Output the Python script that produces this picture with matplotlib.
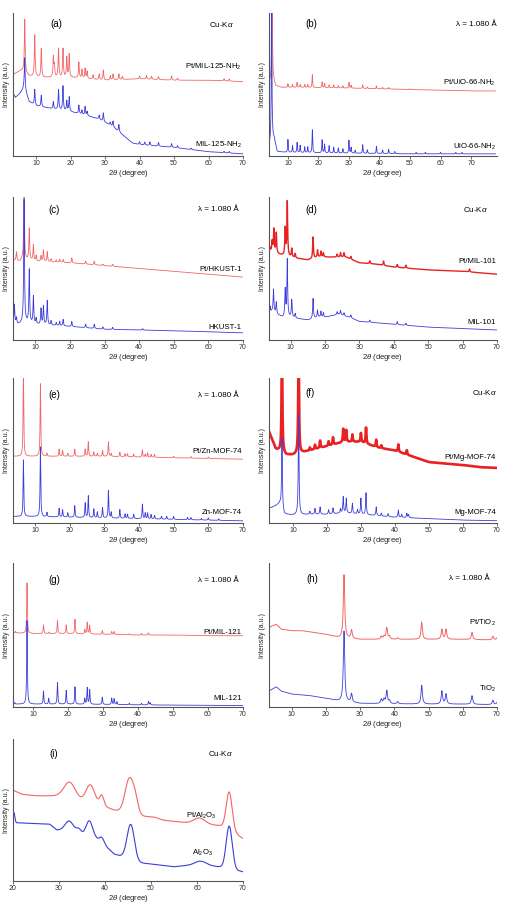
import numpy as np
import matplotlib
matplotlib.use("Agg")
import matplotlib.pyplot as plt

plt.rcParams['font.family'] = ['Liberation Sans', 'DejaVu Sans']
plt.rcParams['mathtext.fontset'] = 'custom'
plt.rcParams['mathtext.rm'] = 'Liberation Sans'
plt.rcParams['mathtext.it'] = 'Liberation Sans:italic'

RED = '#f26666'
RED_DARK = '#e82222'
BLUE = '#3c3cdc'

# ---- (a) MIL-125-NH2, Cu-Ka
a_red_bg_x = [3.3, 5, 6, 8, 12, 20, 30, 40, 50, 60, 70]
a_red_bg_y = [57, 59, 60, 56, 55, 55, 53, 54, 53, 53, 52]
a_red_peaks = [(6.7, 37), (9.6, 29), (11.5, 20), (15.0, 14), (15.3, 8), (16.5, 20), (17.8, 20),
               (18.9, 14), (19.6, 16), (22.4, 11), (23.3, 6), (24.2, 7), (24.8, 5), (26.5, 3),
               (28.3, 4), (29.5, 7), (31.5, 3), (32.3, 4), (34.0, 4), (35, 2), (40, 2), (42, 2.5),
               (43.5, 2), (45.5, 2), (49.3, 3), (51, 1.5), (64.5, 1.5), (66, 1.5)]
a_blue_bg_x = [3.3, 4, 5, 6, 6.5, 8, 10, 15, 20, 25, 28, 32, 35, 38, 40, 50, 60, 70]
a_blue_bg_y = [44, 41, 43, 46, 48, 38, 35, 33, 31, 28, 26, 21, 15, 9, 8, 6, 3, 1.5]
a_blue_peaks = [(6.7, 22), (9.6, 11), (11.5, 8), (15.0, 5), (16.5, 14), (17.8, 17), (18.9, 7),
                (19.6, 10), (22.4, 6), (23.3, 3), (24.2, 6), (24.8, 3), (28.3, 3), (29.5, 6),
                (31.5, 2), (32.3, 4), (34.0, 5), (40, 2), (41.5, 2), (43, 2.5), (45.5, 2.5),
                (49.3, 2.5), (51, 1.5), (55, 1), (64.5, 1), (66, 1)]

# ---- (b) UiO-66-NH2, 1.080 A
b_red_bg_x = [3.7, 4.5, 5.0, 6, 8, 15, 30, 50, 70, 78]
b_red_bg_y = [52, 53, 55, 49, 48, 48, 47.5, 46.5, 45.5, 45.5]
b_red_peaks = [(4.8, 80), (10, 2.5), (11.5, 2), (13, 3.5), (14, 2), (15.5, 2), (16.5, 2), (18, 9),
               (21.2, 4), (22, 3), (23.5, 2), (25, 2), (26.5, 1.5), (28, 1.5), (30, 4), (30.7, 2),
               (34.5, 2.5), (36, 1), (39, 2), (41, 1), (43, 1), (50, 0.5)]
b_blue_bg_x = [3.7, 4.5, 5, 5.5, 6.5, 10, 30, 50, 78]
b_blue_bg_y = [8, 9, 12, 12, 3, 2.5, 2, 1.5, 1.5]
b_blue_peaks = [(4.65, 110), (10, 9), (11.5, 5), (13, 7), (14, 5), (15.5, 4), (16.5, 4), (18, 16),
                (21.2, 9), (22, 6), (23.5, 5), (25, 4), (26.5, 3.5), (28, 3), (30, 9), (30.7, 4),
                (32, 2), (34.5, 6), (36, 2.5), (39, 5), (41, 2.5), (43, 3), (45, 1.5), (52, 1),
                (55, 1), (60, 1), (65, 1), (67, 1)]

# ---- (c) HKUST-1, 1.080 A
c_red_bg_x = [3.5, 5.5, 6.2, 8, 10, 20, 30, 40, 50, 60, 70]
c_red_bg_y = [56, 55, 57, 56, 55, 54, 52, 50, 48, 46, 44]
c_red_peaks = [(4.5, 6), (6.7, 46), (8.2, 22), (9.4, 11), (10.2, 4), (11.6, 4), (12.3, 8), (13.4, 7),
               (14.5, 2), (16, 1.5), (17, 2), (18, 2), (20.5, 3.5), (24.5, 2), (27, 2.5),
               (29.5, 1), (32.3, 1.5)]
c_blue_bg_x = [3.5, 5, 6.2, 8, 10, 20, 30, 40, 50, 70]
c_blue_bg_y = [12, 11, 12, 12, 11, 9.5, 7.5, 7, 6.5, 5]
c_blue_peaks = [(3.9, 13), (4.5, 4), (6.7, 86), (8.2, 37), (9.4, 19), (10.2, 4), (11.6, 11),
                (12.3, 13), (13.4, 17), (14.5, 3), (16, 2), (17, 3), (18, 4.5), (20.5, 3.5),
                (24.5, 2.5), (27, 3), (29.5, 1.5), (32.3, 1.5), (41, 1)]

# ---- (d) MIL-101, Cu-Ka
d_red_bg_x = [3.5, 4.5, 6.5, 8, 10, 12, 15, 18, 22, 26, 30, 35, 40, 45, 50, 60, 70]
d_red_bg_y = [61, 62, 60, 59, 58, 57, 56, 58, 58, 58, 54, 53, 51, 50, 49, 48, 46]
d_red_peaks = [(4.0, 3), (4.6, 7), (5.1, 16), (5.8, 14), (8.4, 19), (9.0, 38), (10.3, 6), (11.3, 3),
               (16.5, 15), (17.8, 5), (18.8, 4), (19.5, 3), (23.5, 2), (24.5, 3), (25.5, 3),
               (27.5, 2), (33, 2), (37, 3), (41, 2), (43.5, 2), (62, 2)]
d_blue_bg_x = [3.5, 4.5, 6, 7.5, 10, 12, 15, 18, 20, 24, 27, 30, 35, 40, 50, 60, 70]
d_blue_bg_y = [17, 20, 18, 16, 16, 15, 14, 16, 16, 18, 16, 13, 12, 11, 9, 8, 7]
d_blue_peaks = [(4.0, 5), (5.0, 16), (5.8, 8), (8.4, 19), (9.0, 40), (10.3, 12), (11.3, 3),
                (16.5, 14), (17.8, 5), (18.8, 4), (19.5, 3), (23.5, 2), (24.5, 3), (25.5, 2),
                (27.5, 2), (33, 1.5), (41, 2), (43.5, 1.5)]

# ---- (e) Zn-MOF-74, 1.080 A
e_red_bg_x = [3.7, 10, 20, 30, 40, 50, 60, 70]
e_red_bg_y = [46, 46, 46, 46, 45.5, 45, 44.5, 44]
e_red_peaks = [(6.7, 60), (11.6, 50), (13.5, 2), (17, 5), (18, 4), (19.5, 2), (21.5, 5), (24.5, 5),
               (25.4, 10), (27, 3), (28, 2), (29.5, 4), (31.2, 10), (32, 2), (34.5, 3), (36, 2),
               (36.7, 2), (38.5, 2), (41, 5), (41.8, 2), (42.5, 3), (43.5, 2), (44.5, 2), (50, 1),
               (55, 1), (60, 1)]
e_blue_bg_x = [3.7, 10, 20, 30, 40, 50, 60, 70]
e_blue_bg_y = [4.5, 4.5, 4, 3.5, 3, 2.5, 2, 1.5]
e_blue_peaks = [(6.7, 39), (11.6, 48), (13.5, 3), (17, 6), (18, 5), (19.5, 3), (21.5, 8), (24.5, 10),
                (25.4, 15), (27, 6), (28, 4), (29.5, 7), (31.2, 19), (32, 4), (34.5, 6), (36, 3),
                (36.7, 3), (38.5, 3), (41, 10), (41.8, 4), (42.5, 4), (43.5, 3), (44.5, 2.5),
                (46.5, 2), (48, 2), (50, 2), (54, 1.5), (55, 1.5), (58, 1), (60, 1.5), (63, 1)]

# ---- (f) Mg-MOF-74, Cu-Ka
f_red_bg_x = [3, 4, 5, 6, 8, 10, 15, 20, 25, 30, 35, 40, 45, 50, 55, 60, 65, 70]
f_red_bg_y = [63, 57, 51, 50, 47, 47, 50, 53, 56, 56, 52, 50, 46, 42, 41, 40, 38.5, 38]
f_red_peaks = [(6.8, 80), (11.7, 80), (15, 2), (16.5, 3), (18, 5), (20.5, 3), (21.8, 5), (24.8, 9),
               (25.7, 8), (27.5, 5), (30, 6), (31.5, 11), (34.5, 5), (36, 2), (41, 5), (43.5, 3)]
f_blue_bg_x = [3, 5, 6.2, 7.5, 10, 15, 20, 25, 30, 35, 40, 50, 60, 70]
f_blue_bg_y = [10, 12, 13.5, 6, 5.5, 6, 6, 7, 6, 5, 4, 3, 2, 1.6]
f_blue_peaks = [(6.8, 48), (11.7, 70), (15, 2), (16.5, 4), (18, 5), (20.5, 3), (21.8, 4), (24, 3),
                (24.8, 11), (25.7, 10), (27.5, 7), (29, 3), (30, 11), (31.5, 15), (34.5, 6),
                (36, 2), (38, 2), (41, 5), (42, 2), (43.5, 3), (44, 2)]

# ---- (g) MIL-121, 1.080 A
g_red_bg_x = [4.3, 10, 20, 30, 40, 50, 60, 70]
g_red_bg_y = [51.5, 51, 51, 50.5, 50, 50, 49.5, 49.5]
g_red_peaks = [(5, 1), (8.3, 35), (13, 6), (14.5, 1), (17, 9), (19.5, 6), (22, 10), (24.8, 3),
               (25.5, 8), (26.2, 6), (29.8, 2.5), (32.5, 2), (33.2, 2), (37.5, 0.8), (41, 1),
               (43, 1.5)]
g_blue_bg_x = [4.3, 10, 20, 30, 40, 50, 60, 70]
g_blue_bg_y = [2, 2, 2, 1.8, 1.5, 1.3, 1.2, 1]
g_blue_peaks = [(4.8, 1), (8.3, 58), (13, 9), (14.5, 4), (17, 15), (19.5, 9.5), (22, 12), (24.8, 4),
                (25.5, 11.5), (26.2, 10), (29.8, 5), (32.5, 4.5), (33.2, 4), (34, 2), (37.5, 1),
                (41, 1), (43, 2.5), (43.5, 1.5)]

# ---- (h) TiO2, 1.080 A
h_red_bg_x = [3.3, 4, 5.5, 7, 10, 13, 17, 20, 24, 30, 40, 50, 60, 70]
h_red_bg_y = [55, 56, 57.5, 54, 53, 53, 51.5, 50.5, 48, 47, 47, 47, 47, 46.5]
h_red_peaks = [(25.3, 44), (27.5, 6), (36.2, 2), (37.0, 2), (37.8, 8), (38.6, 2), (41, 1), (48.0, 12),
               (53.9, 7), (55.1, 7), (62.7, 5), (68.8, 2.5), (70, 1.5)]
h_blue_bg_x = [3.3, 4, 5.5, 7, 10, 15, 20, 24, 30, 40, 50, 60, 70]
h_blue_bg_y = [11, 12, 14, 11, 9, 8, 6, 4, 2.5, 2.2, 2, 2, 1.6]
h_blue_peaks = [(25.3, 49), (27.5, 6), (36.2, 3), (37.0, 3), (37.8, 9), (38.6, 2), (41, 1.5),
                (48.0, 13), (53.9, 9), (55.1, 7), (62.7, 6), (68.8, 3), (70, 1.5)]

# ---- (i) Al2O3, Cu-Ka
i_red_bg_x = [20, 22, 25, 28, 30, 35, 38, 42, 44, 48, 52, 58, 62, 65, 68, 70]
i_red_bg_y = [64, 61, 60, 60, 60, 57, 55, 50, 49, 46, 43, 41, 40, 39, 34, 30]
i_red_peaks = [(32.3, 11), (36.8, 12), (39.3, 7), (45.3, 24), (46.6, 8), (50.8, 1), (60.5, 4), (67.0, 27)]
i_red_widths = [1.2, 0.9, 0.45, 0.9, 0.6, 1.0, 1.2, 0.65]
i_blue_bg_x = [20, 21, 28, 29.5, 33, 35, 38, 40, 42, 44, 47, 50, 55, 58, 62, 65, 68, 70]
i_blue_bg_y = [41, 41, 40, 36, 35, 33, 30, 25, 19, 17, 13, 12, 10, 11, 11, 10, 8, 6.5]
i_blue_peaks = [(20.2, 7), (32.2, 7), (34.3, 3), (36.6, 11), (39.3, 4), (45.6, 25), (60.7, 3), (67.0, 30)]
i_blue_widths = [0.2, 0.9, 0.5, 0.7, 0.5, 0.8, 1.2, 0.65]


def lorentz_pattern(x, bg_x, bg_y, peaks, w):
    y = np.interp(x, bg_x, bg_y)
    for p, h in peaks:
        y = y + h / (1 + ((x - p) / w) ** 2)
    return y


def gauss_pattern(x, bg_x, bg_y, peaks, widths):
    y = np.interp(x, bg_x, bg_y)
    for (p, h), s in zip(peaks, widths):
        y = y + h * np.exp(-0.5 * ((x - p) / s) ** 2)
    return y


def style(ax, xlim, xticks):
    ax.set_xlim(*xlim)
    ax.set_ylim(0, 100)
    ax.set_xticks(xticks)
    ax.set_yticks([])
    for s in ['top', 'right']:
        ax.spines[s].set_visible(False)
    for s in ['left', 'bottom']:
        ax.spines[s].set_color('#555555')
        ax.spines[s].set_linewidth(0.8)
    ax.tick_params(axis='x', length=2, width=0.5, pad=1, labelsize=5, colors='#333333')
    ax.set_xlabel(r'2$\it{\theta}$ (degree)', fontsize=5.5, labelpad=0.5, color='#222222')
    ax.set_ylabel('Intensity (a.u.)', fontsize=5, labelpad=2, color='#222222')


fig = plt.figure(figsize=(5.16, 9.05), dpi=100)

L = (13 / 516, 230 / 516)
R = (268.7 / 516, 228.3 / 516)
rows = [(13, 156), (197, 340), (378, 523), (563, 707), (739, 881)]


def make_ax(col, row):
    top, bot = rows[row]
    return fig.add_axes([col[0], 1 - bot / 905, col[1], (bot - top) / 905])


panels = [
    # col, row, xlim, ticks, red data, blue data, peak width, label, source, red text, blue text,
    # label positions, text positions, red colour, red line width
    (L, 0, (3.3, 70), range(10, 71, 10), (a_red_bg_x, a_red_bg_y, a_red_peaks),
     (a_blue_bg_x, a_blue_bg_y, a_blue_peaks), 0.13, '(a)', r'Cu-K$\it{\alpha}$',
     r'Pt/MIL-125-NH$_2$', r'MIL-125-NH$_2$', (0.19, 0.92, 0.96), (0.62, 0.075), RED, 0.6),
    (R, 0, (3.7, 78.5), range(10, 71, 10), (b_red_bg_x, b_red_bg_y, b_red_peaks),
     (b_blue_bg_x, b_blue_bg_y, b_blue_peaks), 0.11, '(b)', 'λ = 1.080 Å',
     r'Pt/UiO-66-NH$_2$', r'UiO-66-NH$_2$', (0.185, 0.92, 1.0), (0.51, 0.065), RED, 0.6),
    (L, 1, (3.5, 70), range(10, 71, 10), (c_red_bg_x, c_red_bg_y, c_red_peaks),
     (c_blue_bg_x, c_blue_bg_y, c_blue_peaks), 0.13, '(c)', 'λ = 1.080 Å',
     'Pt/HKUST-1', 'HKUST-1', (0.18, 0.91, 0.98), (0.49, 0.09), RED, 0.6),
    (R, 1, (3.6, 70), range(10, 71, 10), (d_red_bg_x, d_red_bg_y, d_red_peaks),
     (d_blue_bg_x, d_blue_bg_y, d_blue_peaks), 0.13, '(d)', r'Cu-K$\it{\alpha}$',
     'Pt/MIL-101', 'MIL-101', (0.185, 0.91, 0.96), (0.55, 0.125), RED_DARK, 1.0),
    (L, 2, (3.7, 70), range(10, 71, 10), (e_red_bg_x, e_red_bg_y, e_red_peaks),
     (e_blue_bg_x, e_blue_bg_y, e_blue_peaks), 0.11, '(e)', 'λ = 1.080 Å',
     'Pt/Zn-MOF-74', 'Zn-MOF-74', (0.18, 0.88, 0.98), (0.49, 0.07), RED, 0.6),
    (R, 2, (2.9, 70), range(10, 71, 10), (f_red_bg_x, f_red_bg_y, f_red_peaks),
     (f_blue_bg_x, f_blue_bg_y, f_blue_peaks), 0.13, '(f)', r'Cu-K$\it{\alpha}$',
     'Pt/Mg-MOF-74', 'Mg-MOF-74', (0.18, 0.9, 1.0), (0.455, 0.07), RED_DARK, 1.9),
    (L, 3, (4.3, 70), range(10, 71, 10), (g_red_bg_x, g_red_bg_y, g_red_peaks),
     (g_blue_bg_x, g_blue_bg_y, g_blue_peaks), 0.11, '(g)', 'λ = 1.080 Å',
     'Pt/MIL-121', 'MIL-121', (0.18, 0.88, 0.98), (0.52, 0.06), RED, 0.6),
    (R, 3, (3.3, 70), range(10, 71, 10), (h_red_bg_x, h_red_bg_y, h_red_peaks),
     (h_blue_bg_x, h_blue_bg_y, h_blue_peaks), 0.24, '(h)', 'λ = 1.080 Å',
     r'Pt/TiO$_2$', r'TiO$_2$', (0.19, 0.89, 0.97), (0.585, 0.125), RED, 0.7),
]

x_all = np.arange(2.5, 80, 0.02)
for (col, row, xlim, ticks, red, blue, w, lab, src, rtxt, btxt, pos, tpos, rc, rlw) in panels:
    ax = make_ax(col, row)
    x = x_all[(x_all >= xlim[0]) & (x_all <= min(xlim[1], 78))]
    ax.plot(x, lorentz_pattern(x, *red, w), color=rc, lw=rlw)
    ax.plot(x, lorentz_pattern(x, *blue, w), color=BLUE, lw=0.6)
    style(ax, xlim, ticks)
    ax.text(pos[0], pos[1], lab, transform=ax.transAxes, fontsize=7, ha='center', va='center')
    ax.text(pos[2], pos[1], src, transform=ax.transAxes, fontsize=5.8, ha='right', va='center')
    ax.text(0.995, tpos[0], rtxt, transform=ax.transAxes, fontsize=5.6, ha='right', va='center')
    ax.text(0.995, tpos[1], btxt, transform=ax.transAxes, fontsize=5.6, ha='right', va='center')

# (i) broad alumina peaks
ax = make_ax(L, 4)
x = np.arange(20, 70.01, 0.05)
ax.plot(x, gauss_pattern(x, i_red_bg_x, i_red_bg_y, i_red_peaks, i_red_widths), color=RED, lw=0.8)
ax.plot(x, gauss_pattern(x, i_blue_bg_x, i_blue_bg_y, i_blue_peaks, i_blue_widths), color=BLUE, lw=0.8)
style(ax, (20, 70), range(20, 71, 10))
ax.text(0.175, 0.895, '(i)', transform=ax.transAxes, fontsize=7, ha='center', va='center')
ax.text(0.955, 0.895, r'Cu-K$\it{\alpha}$', transform=ax.transAxes, fontsize=5.8, ha='right', va='center')
ax.text(0.884, 0.46, r'Pt/Al$_2$O$_3$', transform=ax.transAxes, fontsize=5.6, ha='right', va='center')
ax.text(0.87, 0.2, r'Al$_2$O$_3$', transform=ax.transAxes, fontsize=5.6, ha='right', va='center')

fig.savefig('out.png', dpi=100)
